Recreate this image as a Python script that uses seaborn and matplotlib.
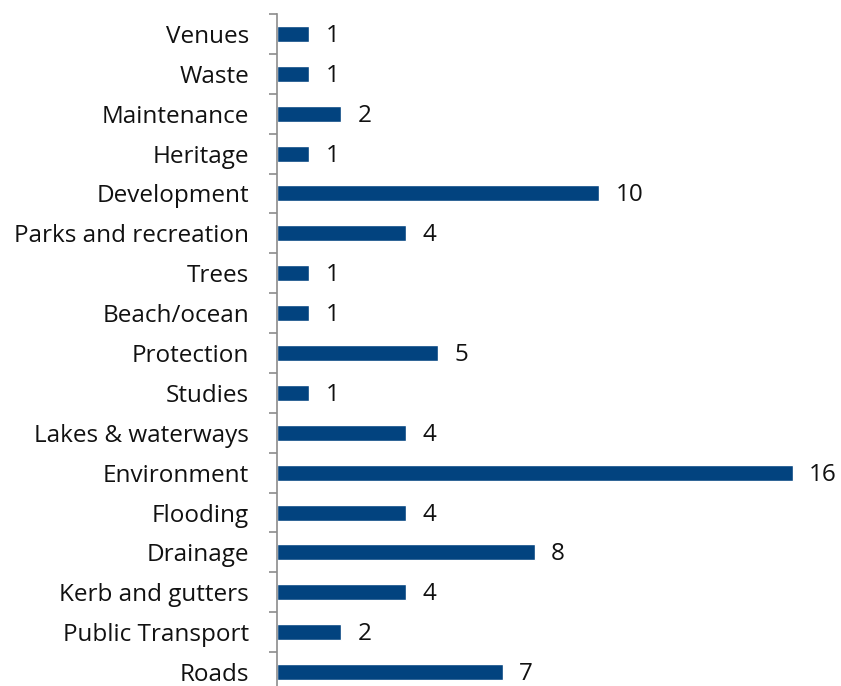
import pandas as pd
import matplotlib.pyplot as plt
import seaborn as sns
from matplotlib.ticker import MultipleLocator

categories = ['Venues', 'Waste', 'Maintenance', 'Heritage', 'Development',
              'Parks and recreation', 'Trees', 'Beach/ocean', 'Protection',
              'Studies', 'Lakes & waterways', 'Environment', 'Flooding',
              'Drainage', 'Kerb and gutters', 'Public Transport', 'Roads']
counts = [1, 1, 2, 1, 10, 4, 1, 1, 5, 1, 4, 16, 4, 8, 4, 2, 7]

df = pd.DataFrame({'category': categories, 'count': counts})

sns.set_style('white')
plt.rcParams['font.family'] = ['Open Sans', 'DejaVu Sans']

fig = plt.figure(figsize=(8.41, 6.86), dpi=100)
ax = fig.add_axes([277 / 841, -6 / 686, 548 / 841, 678 / 686])

sns.barplot(data=df, x='count', y='category', color='#02437F',
            width=0.4, saturation=1, ax=ax)

for i, v in enumerate(counts):
    ax.text(v + 0.5, i + 0.05, str(v), va='center', ha='left', fontsize=17.5, color='#111111')

ax.set_xlim(0, 17)
ax.set_ylim(16.5, -0.5)
ax.set_xlabel('')
ax.set_ylabel('')
ax.set_xticks([])
ax.tick_params(axis='y', which='major', left=False, length=0, pad=20,
               labelsize=17.5, labelcolor='#111111')
ax.yaxis.set_minor_locator(MultipleLocator(1, offset=0.5))
ax.tick_params(axis='y', which='minor', left=True, length=6, width=1.2,
               color='#8c8c8c', direction='out')
for s in ['top', 'right', 'bottom']:
    ax.spines[s].set_visible(False)
ax.spines['left'].set_color('#8c8c8c')
ax.spines['left'].set_linewidth(1.2)

fig.savefig('out.png', dpi=100)
